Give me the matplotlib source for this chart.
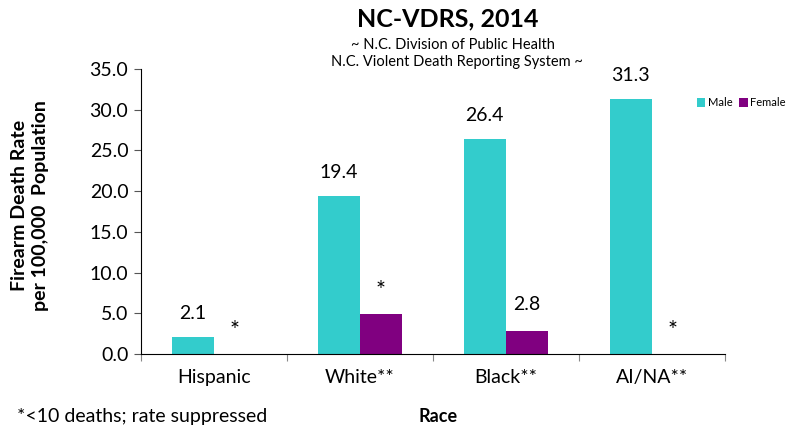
import matplotlib
matplotlib.use('Agg')
import matplotlib.pyplot as plt
import numpy as np

plt.rcParams['font.family'] = ['Lato', 'DejaVu Sans']

races = ['Hispanic', 'White**', 'Black**', 'AI/NA**']
male = [2.1, 19.4, 26.4, 31.3]
female = [0.0, 4.9, 2.8, 0.0]
male_labels = ['2.1', '19.4', '26.4', '31.3']
female_labels = ['*', '*', '2.8', '*']

c_male = '#33CCCC'
c_female = '#800080'

fig = plt.figure(figsize=(7.87, 4.29), dpi=100)
ax = fig.add_axes([0.179, 0.175, 0.742, 0.664])

x = np.arange(len(races))
w = 0.288
b1 = ax.bar(x - w/2, male, w, color=c_male, label='Male')
b2 = ax.bar(x + w/2, female, w, color=c_female, label='Female')

for i in range(len(races)):
    ax.annotate(male_labels[i], (x[i] - w/2, male[i]), xytext=(0, 17), textcoords='offset points',
                ha='center', va='center', fontsize=14)
    # the star labels look bigger in the original
    fs = 17 if female_labels[i] == '*' else 14
    dy = 17 if female_labels[i] == '*' else 19
    ax.annotate(female_labels[i], (x[i] + w/2, female[i]), xytext=(0, dy), textcoords='offset points',
                ha='center', va='center', fontsize=fs)

ax.set_xlim(-0.5, 3.5)
ax.set_ylim(0, 35)
ax.set_yticks(np.arange(0, 35.1, 5))
ax.set_yticklabels(['%.1f' % v for v in np.arange(0, 35.1, 5)], fontsize=14)
ax.tick_params(axis='y', direction='out', length=5, width=0.8, colors='#555555', labelcolor='black', pad=4)

ax.set_xticks(np.arange(-0.5, 3.6, 1))
ax.set_xticklabels([])
ax.set_xticks(x, minor=True)
ax.set_xticklabels(races, minor=True, fontsize=14)
ax.tick_params(axis='x', which='major', direction='out', length=5, width=0.8, colors='#888888')
ax.tick_params(axis='x', which='minor', length=0, pad=11)

ax.spines['top'].set_visible(False)
ax.spines['right'].set_visible(False)
ax.spines['left'].set_color('black')
ax.spines['bottom'].set_color('black')

fig.text(0.038, 0.52, 'Firearm Death Rate\nper 100,000  Population', rotation=90, ha='center', va='center',
         fontsize=14, fontweight='bold', linespacing=1.3)

fig.text(0.569, 0.957, 'NC-VDRS, 2014', ha='center', va='center', fontsize=18, fontweight='bold')
fig.text(0.575, 0.895, '~ N.C. Division of Public Health', ha='center', va='center', fontsize=10.5)
fig.text(0.58, 0.855, 'N.C. Violent Death Reporting System ~', ha='center', va='center', fontsize=10.5)

fig.text(0.022, 0.028, '*<10 deaths; rate suppressed', ha='left', va='center', fontsize=14)
fig.text(0.556, 0.028, 'Race', ha='center', va='center', fontsize=13, fontweight='bold')

fig.legend(handles=[b1, b2], loc='center left', bbox_to_anchor=(0.878, 0.76), frameon=False,
           ncol=2, fontsize=8, handlelength=0.8, handleheight=0.8, handletextpad=0.2,
           columnspacing=0.6, borderpad=0)

fig.savefig('out.png', dpi=100)
